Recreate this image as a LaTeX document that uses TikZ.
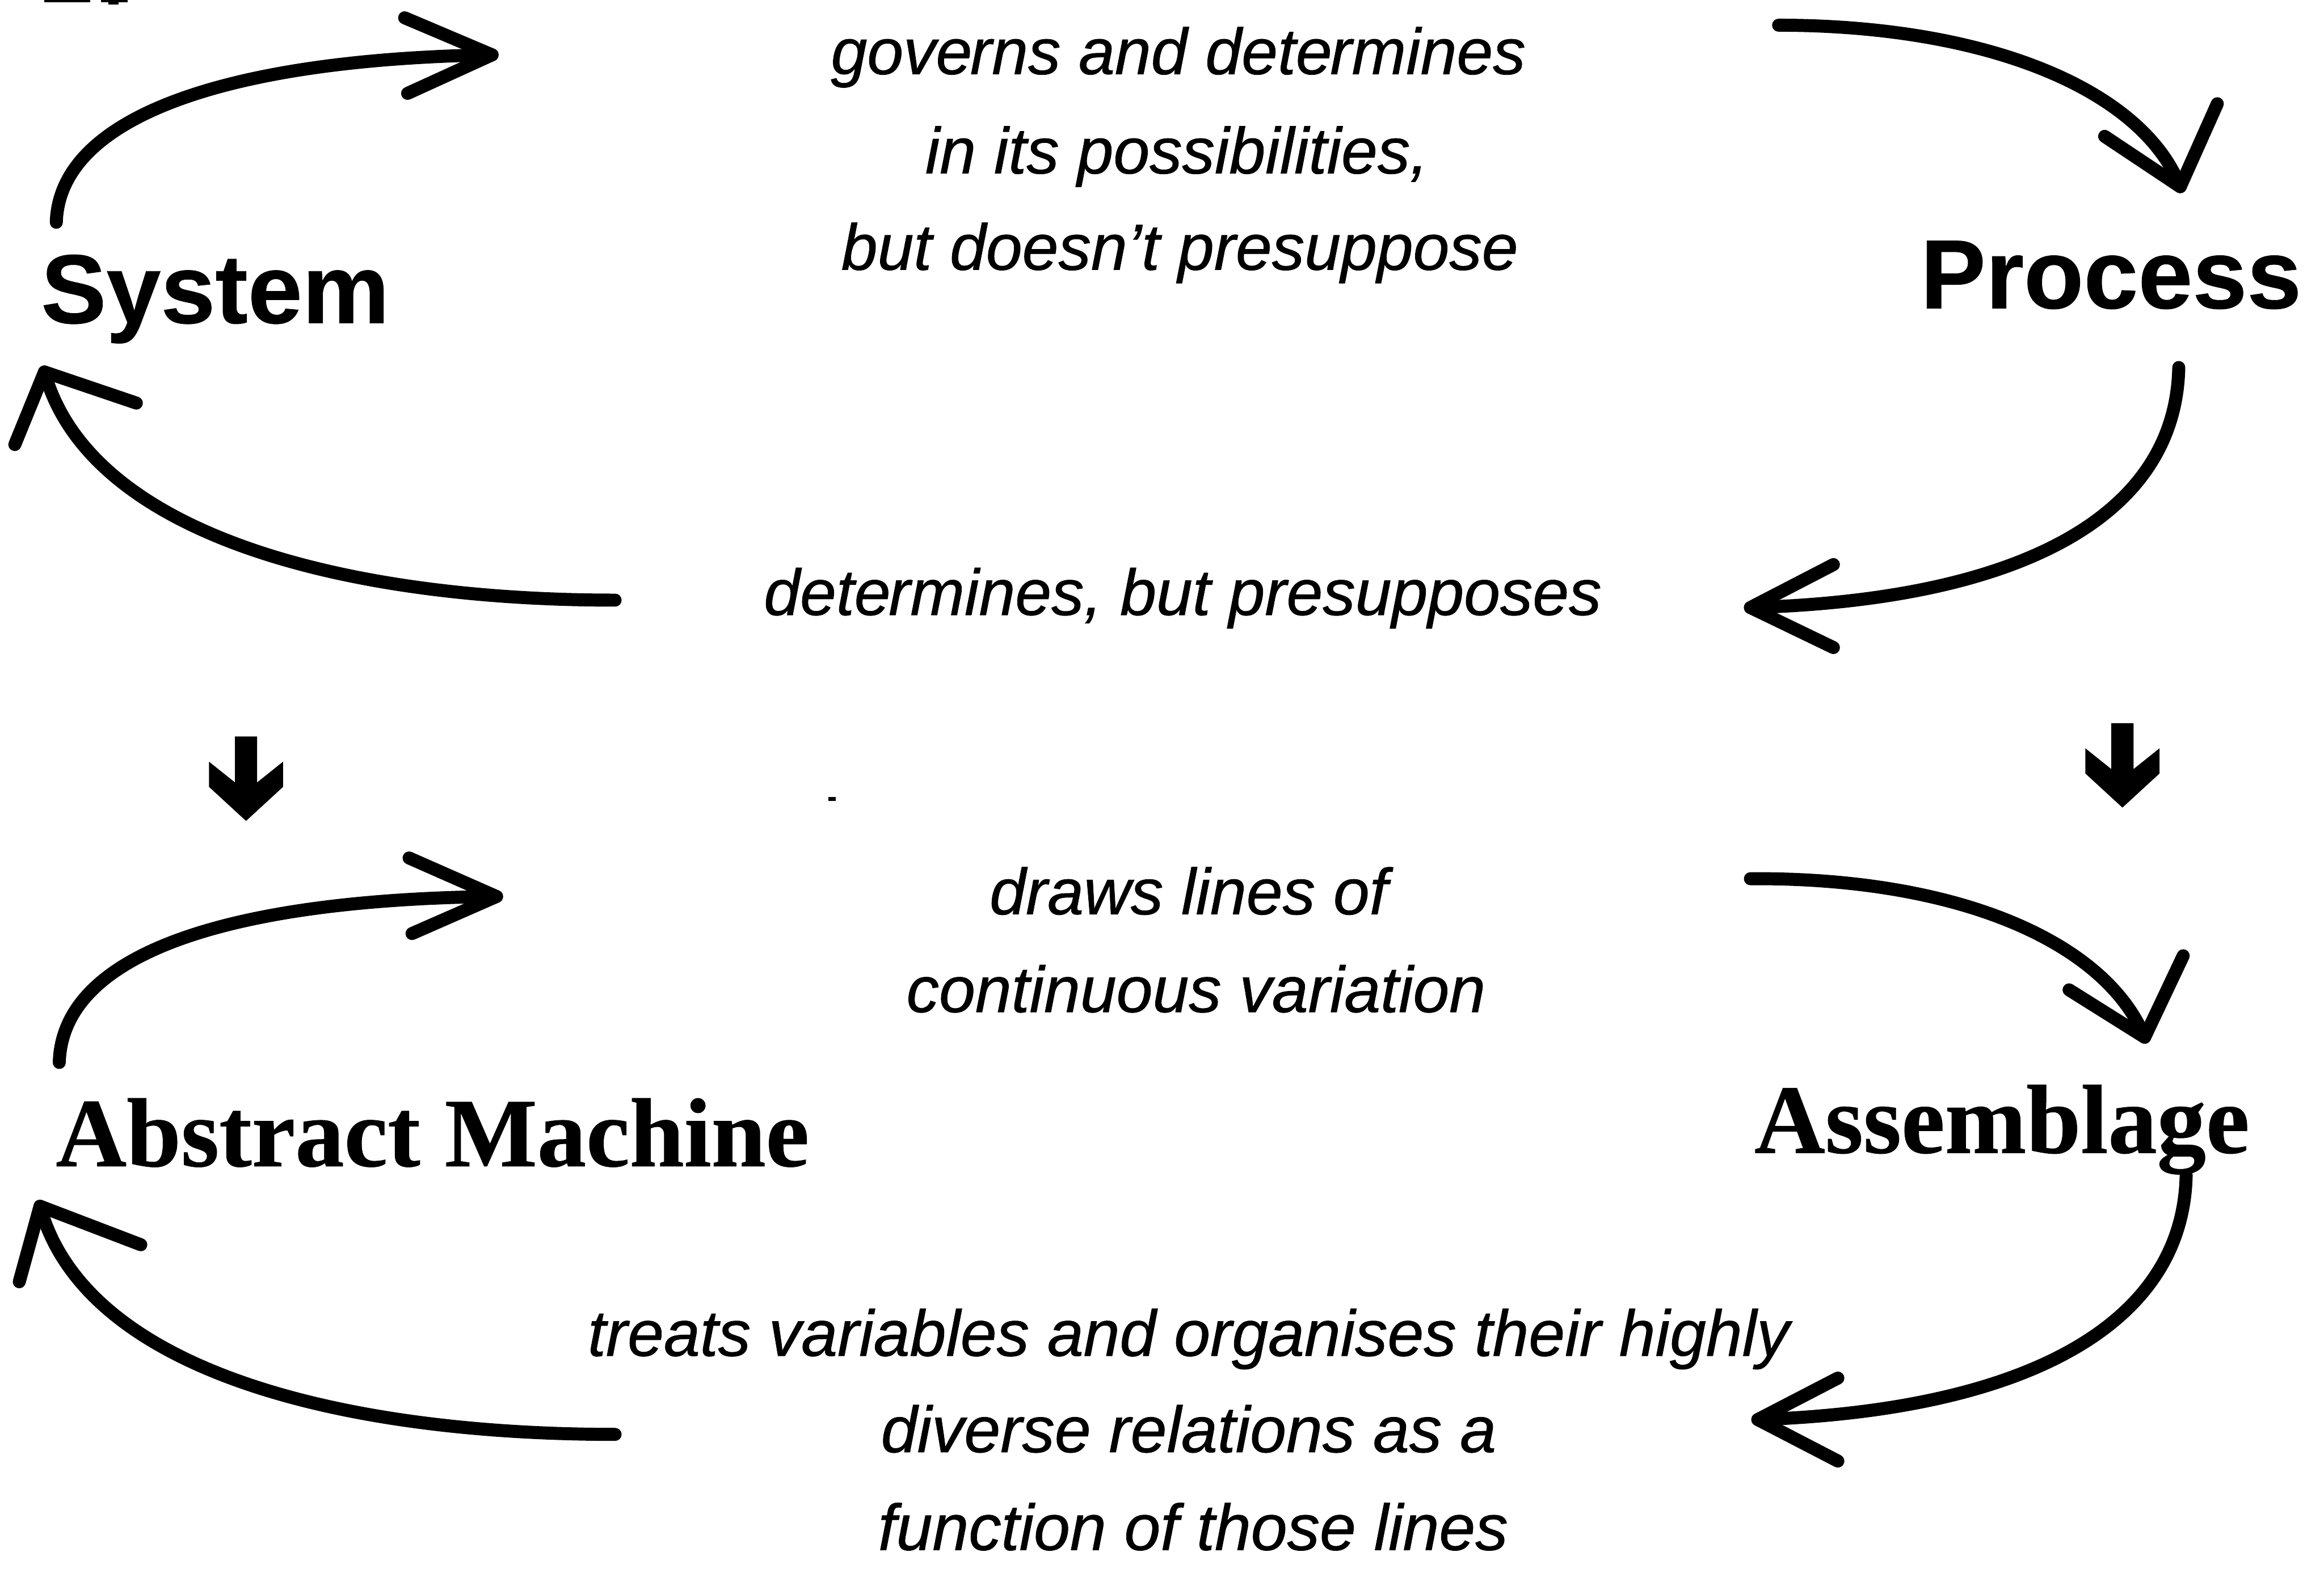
\documentclass[tikz,border=0pt]{standalone}
\usepackage{fontspec}
\setmainfont{Liberation Sans}
\newfontfamily\sansfam{Liberation Sans}[BoldFeatures={FakeBold=0.5}]
\newfontfamily\glossfam{Liberation Sans}[ItalicFeatures={FakeBold=0.7}]
\newfontfamily\seriffam{Liberation Serif}[BoldFeatures={FakeBold=0.5}]
\begin{document}
\begin{tikzpicture}[x=0.1mm,y=-0.1mm]
\tikzset{
  flow/.style={line width=2.5pt, line cap=round, line join=round},
  termsans/.style={font=\sansfam\bfseries\fontsize{18.8}{22}\selectfont, inner sep=0, anchor=base west},
  termserif/.style={font=\seriffam\bfseries\fontsize{18.8}{22}\selectfont, inner sep=0, anchor=base west},
  gloss/.style={font=\glossfam\itshape\fontsize{12.5}{15}\selectfont, inner sep=0, anchor=base},
  pics/downarrow/.style={code={
    \fill (0,0) -- (-25,-23) -- (-25,-40) -- (-7.5,-26) -- (-7.5,-57)
          -- (7.5,-57) -- (7.5,-26) -- (25,-40) -- (25,-23) -- cycle;}}
}
\useasboundingbox (0,0) rectangle (1568,1058.7);

% cut-off marks along the top edge
\fill (30,0) rectangle (61,1.6);
\fill (68,0) rectangle (86,1.6);
\fill (73,0) rectangle (80,3);

% the four terms
\node[termsans]  (system)     at (27,218)  {System};
\node[termsans]  (process)    at (1295,208) {Process};
\node[termserif] (abstract)   at (37,787)  {Abstract Machine};
\node[termserif] (assemblage) at (1183,778) {Assemblage};

% glosses between the terms
\node[gloss] (g1a) at (795,50)  {gove\kern-0.03em rns and dete\kern-0.03em rmines};
\node[gloss] (g1b) at (794,117) {in its possibilities,};
\node[gloss] (g1c) at (796,182) {but doesn’t presuppose};
\node[gloss] (g2)  at (798,415) {dete\kern-0.03em rmines, but presupposes};
\node[gloss] (g3a) at (802,617) {draws lines of};
\node[gloss] (g3b) at (807,683) {continuous variation};
\node[gloss] (g4a) at (802,915) {treats variables and organises their highly};
\node[gloss] (g4b) at (802,980) {diverse relations as a};
\node[gloss] (g4c) at (805,1046) {function of those lines};

% upper cycle: System -> Process
\coordinate (a1s) at (38,150);   \coordinate (a1t) at (332,37);
\coordinate (a1l) at (273,12);   \coordinate (a1r) at (275,63);
\draw[flow] (a1s) .. controls (40,80) and (150,40) .. (a1t);
\draw[flow] (a1l) -- (a1t) -- (a1r);

\coordinate (a2s) at (1200,17);  \coordinate (a2t) at (1471,126);
\coordinate (a2l) at (1420,92);  \coordinate (a2r) at (1496,70);
\draw[flow] (a2s) .. controls (1340,17) and (1445,60) .. (a2t);
\draw[flow] (a2l) -- (a2t) -- (a2r);

% upper cycle: Process -> System
\coordinate (a3s) at (1470,248); \coordinate (a3t) at (1181,410);
\coordinate (a3l) at (1237,381); \coordinate (a3r) at (1237,437);
\draw[flow] (a3s) .. controls (1468,350) and (1360,405) .. (a3t);
\draw[flow] (a3l) -- (a3t) -- (a3r);

\coordinate (a4s) at (415,405);  \coordinate (a4t) at (30,251);
\coordinate (a4l) at (10,300);   \coordinate (a4r) at (92,272);
\draw[flow] (a4s) .. controls (230,405) and (60,360) .. (a4t);
\draw[flow] (a4l) -- (a4t) -- (a4r);

% lower cycle: Abstract Machine -> Assemblage
\coordinate (b1s) at (40,717);   \coordinate (b1t) at (335,605);
\coordinate (b1l) at (276,579);  \coordinate (b1r) at (278,630);
\draw[flow] (b1s) .. controls (42,645) and (150,607) .. (b1t);
\draw[flow] (b1l) -- (b1t) -- (b1r);

\coordinate (b2s) at (1181,593); \coordinate (b2t) at (1447,700);
\coordinate (b2l) at (1396,668); \coordinate (b2r) at (1473,645);
\draw[flow] (b2s) .. controls (1320,592) and (1420,635) .. (b2t);
\draw[flow] (b2l) -- (b2t) -- (b2r);

% lower cycle: Assemblage -> Abstract Machine
\coordinate (b3s) at (1475,793); \coordinate (b3t) at (1186,958);
\coordinate (b3l) at (1240,930); \coordinate (b3r) at (1240,986);
\draw[flow] (b3s) .. controls (1473,895) and (1365,952) .. (b3t);
\draw[flow] (b3l) -- (b3t) -- (b3r);

\coordinate (b4s) at (415,968);  \coordinate (b4t) at (27,814);
\coordinate (b4l) at (13,865);   \coordinate (b4r) at (95,840);
\draw[flow] (b4s) .. controls (230,968) and (57,925) .. (b4t);
\draw[flow] (b4l) -- (b4t) -- (b4r);

% block arrows from each upper term to the one below it
\pic (downleft)  at (166,554)  {downarrow};
\pic (downright) at (1432,545) {downarrow};

% stray speck
\fill (559,538) rectangle (564,540.5);
\end{tikzpicture}
\end{document}
